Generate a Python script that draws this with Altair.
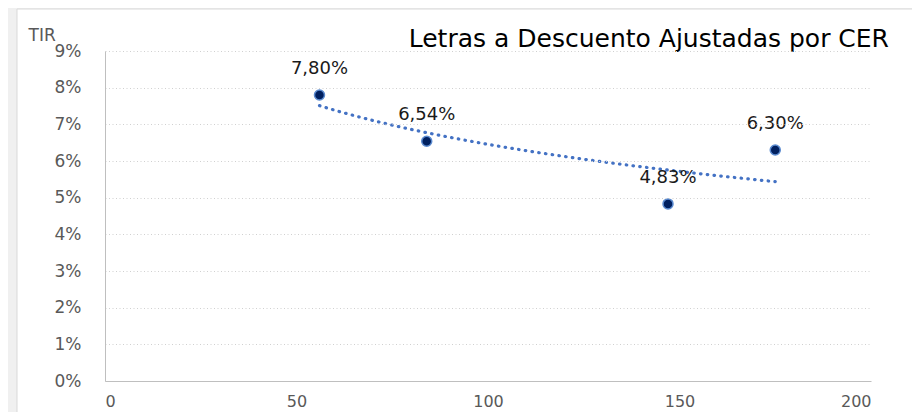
import altair as alt
import pandas as pd

# data
plazo = [56, 84, 147, 175]
tir = [0.0780, 0.0654, 0.0483, 0.0630]
etiquetas = ["7,80%", "6,54%", "4,83%", "6,30%"]

y_ticks = [0, 0.01, 0.02, 0.03, 0.04, 0.05, 0.06, 0.07, 0.08, 0.09]
x_ticks = [0, 50, 100, 150, 200]

df = pd.DataFrame({"plazo": plazo, "tir": tir, "label": etiquetas})

W, H = 766, 330
FONT = "DejaVu Sans"

x_enc = alt.X("plazo:Q", scale=alt.Scale(domain=[0, 200], nice=False),
              axis=alt.Axis(values=x_ticks, title=None, grid=False, ticks=False,
                            domainColor="#bfbfbf", labelColor="#595959",
                            labelFontSize=16, labelPadding=12, labelFont=FONT,
                            zindex=1))
y_enc = alt.Y("tir:Q", scale=alt.Scale(domain=[0, 0.09], nice=False),
              axis=alt.Axis(values=y_ticks, format=".0%", ticks=False,
                            domainColor="#bfbfbf", labelColor="#595959",
                            labelFontSize=17, labelPadding=24, labelFont=FONT,
                            grid=True, gridColor="#d0d0d0", gridDash=[1, 2.5],
                            title="TIR", titleAngle=0, titleAnchor="end",
                            titleAlign="left", titleBaseline="alphabetic",
                            titleX=-77, titleY=-11, titleFontSize=17,
                            titleFontWeight="normal", titleColor="#595959",
                            titleFont=FONT, zindex=1))

bg = alt.Chart(pd.DataFrame({"a": [0]})).mark_rect(
    fill="white", stroke="#d9d9d9", strokeWidth=1
).encode(x=alt.value(-88), x2=alt.value(810), y=alt.value(-42), y2=alt.value(400))

base = alt.Chart(df)

trend = base.transform_regression("plazo", "tir", method="log").mark_line(
    color="#4472C4", strokeDash=[0.5, 6.3], strokeWidth=3.2, strokeCap="round"
).encode(x=x_enc, y=y_enc)

points = base.mark_point(
    filled=True, fill="#002060", stroke="#5b8bd0", strokeWidth=1.5, size=100, opacity=1
).encode(x=x_enc, y=y_enc)

labels = base.mark_text(
    dy=-26, fontSize=18, color="#1a1a1a", font=FONT
).encode(x=x_enc, y=y_enc, text="label:N")

title = alt.Chart(pd.DataFrame({"t": ["Letras a Descuento Ajustadas por CER"]})).mark_text(
    align="right", baseline="middle", fontSize=25, color="#000000", font=FONT
).encode(x=alt.value(784), y=alt.value(-12), text="t:N")

chart = alt.layer(bg, trend, points, labels, title).properties(
    width=W, height=H,
    autosize=alt.AutoSizeParams(type="none"),
    padding={"left": 97, "top": 43, "right": 41, "bottom": 31},
    background="#f0f0f0",
).configure_view(stroke=None)

chart.save("out.html", embed_options={"renderer": "svg", "actions": False})
